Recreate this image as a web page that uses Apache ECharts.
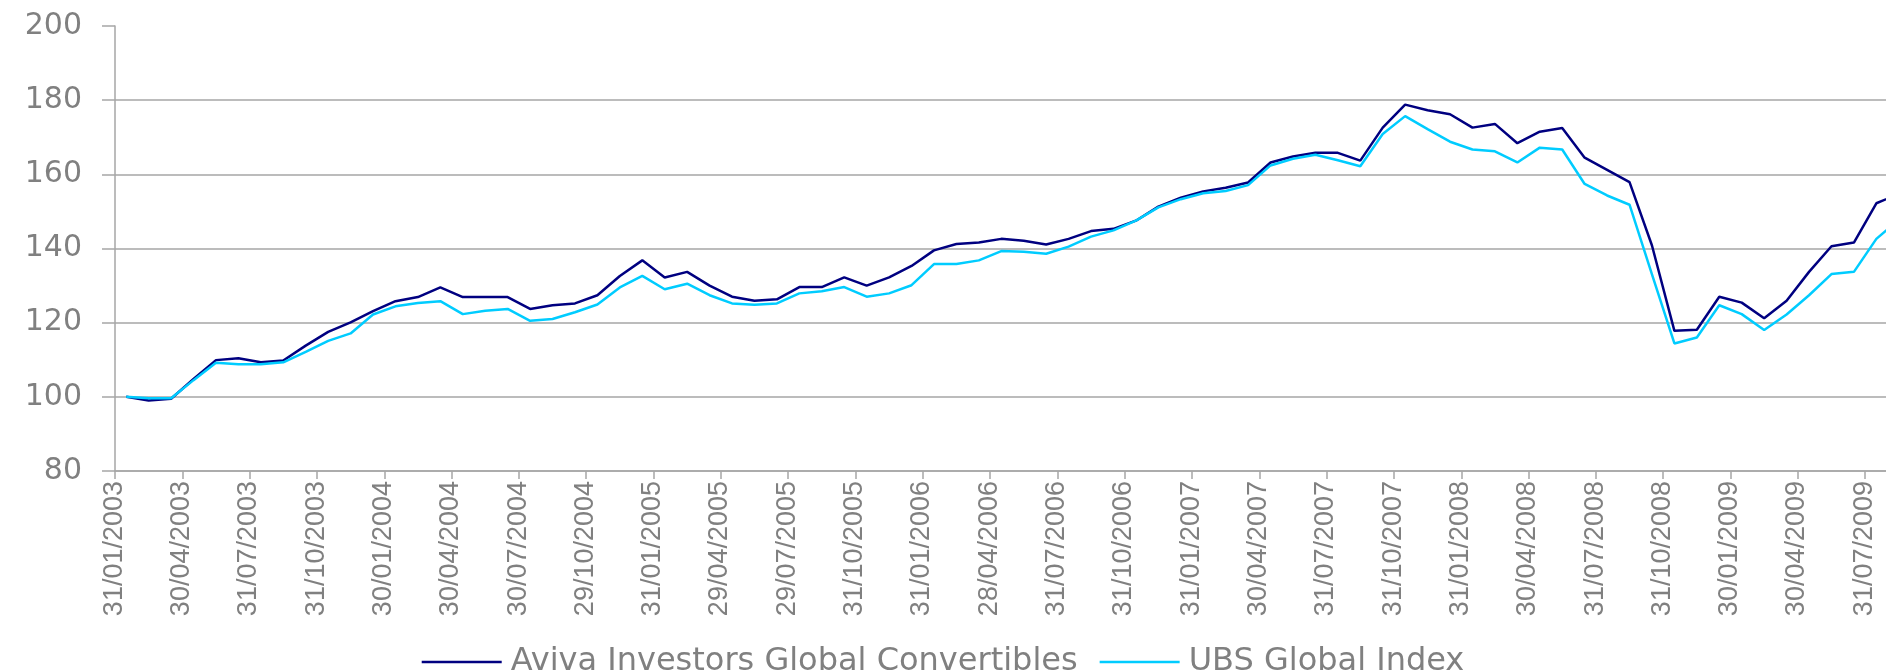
<!DOCTYPE html>
<html>
<head>
<meta charset="utf-8">
<script src="https://cdn.jsdelivr.net/npm/echarts@6/dist/echarts.min.js"></script>
<style>
html,body{margin:0;padding:0;background:#fff;}
#chart{width:1886px;height:671px;}
</style>
</head>
<body>
<div id="chart"></div>
<script>
const categories = [
'31/01/2003','28/02/2003','31/03/2003','30/04/2003','30/05/2003','30/06/2003','31/07/2003','29/08/2003','30/09/2003','31/10/2003','28/11/2003','31/12/2003',
'30/01/2004','27/02/2004','31/03/2004','30/04/2004','31/05/2004','30/06/2004','30/07/2004','31/08/2004','30/09/2004','29/10/2004','30/11/2004','31/12/2004',
'31/01/2005','28/02/2005','31/03/2005','29/04/2005','31/05/2005','30/06/2005','29/07/2005','31/08/2005','30/09/2005','31/10/2005','30/11/2005','30/12/2005',
'31/01/2006','28/02/2006','31/03/2006','28/04/2006','31/05/2006','30/06/2006','31/07/2006','31/08/2006','29/09/2006','31/10/2006','30/11/2006','29/12/2006',
'31/01/2007','28/02/2007','30/03/2007','30/04/2007','31/05/2007','29/06/2007','31/07/2007','31/08/2007','28/09/2007','31/10/2007','30/11/2007','31/12/2007',
'31/01/2008','29/02/2008','31/03/2008','30/04/2008','30/05/2008','30/06/2008','31/07/2008','29/08/2008','30/09/2008','31/10/2008','28/11/2008','31/12/2008',
'30/01/2009','27/02/2009','31/03/2009','30/04/2009','29/05/2009','30/06/2009','31/07/2009','31/08/2009'
];
const avivaName = 'Aviva Investors Global Convertibles';
const ubsName = 'UBS Global Index';
const avivaValues = [
100.0, 99.0, 99.5, 104.8, 109.9, 110.4, 109.3, 109.8, 113.8, 117.5, 120.1, 123.1,
125.8, 126.9, 129.5, 126.9, 126.9, 126.9, 123.7, 124.7, 125.2, 127.4, 132.6, 136.8,
132.2, 133.7, 130.0, 127.0, 125.9, 126.3, 129.6, 129.6, 132.2, 130.0, 132.2, 135.3,
139.5, 141.2, 141.6, 142.6, 142.1, 141.1, 142.6, 144.7, 145.3, 147.5, 151.3, 153.7,
155.4, 156.4, 157.8, 163.2, 164.8, 165.8, 165.8, 163.7, 172.6, 178.8, 177.3, 176.2,
172.6, 173.6, 168.4, 171.5, 172.5, 164.5, 161.2, 157.9, 140.8, 117.8, 118.1, 127.0,
125.4, 121.2, 125.9, 133.7, 140.6, 141.6, 152.2, 154.7
];
const ubsValues = [
100.0, 99.6, 99.6, 104.5, 109.2, 108.8, 108.8, 109.3, 112.1, 115.1, 117.1, 122.2,
124.4, 125.3, 125.8, 122.3, 123.2, 123.7, 120.5, 121.0, 122.8, 124.9, 129.5, 132.6,
129.0, 130.5, 127.4, 125.2, 124.8, 125.2, 127.9, 128.5, 129.6, 127.0, 127.9, 130.1,
135.8, 135.8, 136.8, 139.3, 139.1, 138.6, 140.5, 143.2, 144.9, 147.5, 151.1, 153.3,
154.9, 155.5, 157.1, 162.4, 164.2, 165.3, 163.8, 162.2, 170.9, 175.7, 172.2, 168.8,
166.7, 166.2, 163.2, 167.2, 166.7, 157.4, 154.3, 151.8, 133.0, 114.4, 116.0, 124.7,
122.3, 118.0, 122.2, 127.4, 133.1, 133.7, 142.6, 147.8
];
const yMin = 80, yMax = 200, yStep = 20;

const chart = echarts.init(document.getElementById('chart'), null, {renderer: 'canvas'});
const gray = '#808080';
chart.setOption({
  backgroundColor: '#ffffff',
  animation: false,
  grid: {left: 115, top: 26, bottom: 200, right: -24, containLabel: false, outerBoundsMode: 'none'},
  legend: {
    data: [avivaName, ubsName],
    icon: 'rect',
    left: 'center',
    top: 641,
    itemWidth: 80,
    itemHeight: 2.5,
    itemGap: 22,
    textStyle: {color: gray, fontSize: 32, fontFamily: 'DejaVu Sans', padding: [0, 0, 0, 4]}
  },
  xAxis: {
    type: 'category',
    data: categories,
    boundaryGap: true,
    axisLine: {show: true, lineStyle: {color: '#a6a6a6', width: 1.5}},
    axisTick: {show: true, interval: 2, length: 8, lineStyle: {color: '#a6a6a6', width: 1.5}},
    axisLabel: {
      interval: 2, rotate: 90, margin: 10, color: gray,
      fontSize: 27, fontFamily: 'Liberation Sans',
      verticalAlign: 'bottom', lineHeight: 24
    },
    splitLine: {show: false}
  },
  yAxis: {
    type: 'value',
    min: yMin, max: yMax, interval: yStep,
    axisLine: {show: true, lineStyle: {color: '#a6a6a6', width: 1.5}},
    axisTick: {show: true, length: 13, lineStyle: {color: '#a6a6a6', width: 1.5}},
    axisLabel: {color: gray, fontSize: 30, fontFamily: 'DejaVu Sans', margin: 33},
    splitLine: {show: true, showMaxLine: false, lineStyle: {color: '#a6a6a6', width: 1.5}}
  },
  series: [
    {name: avivaName, type: 'line', data: avivaValues, symbol: 'none', smooth: false,
     lineStyle: {color: '#000080', width: 2.5}, itemStyle: {color: '#000080'}},
    {name: ubsName, type: 'line', data: ubsValues, symbol: 'none', smooth: false,
     lineStyle: {color: '#00ccff', width: 2.5}, itemStyle: {color: '#00ccff'}}
  ]
});
</script>
</body>
</html>
